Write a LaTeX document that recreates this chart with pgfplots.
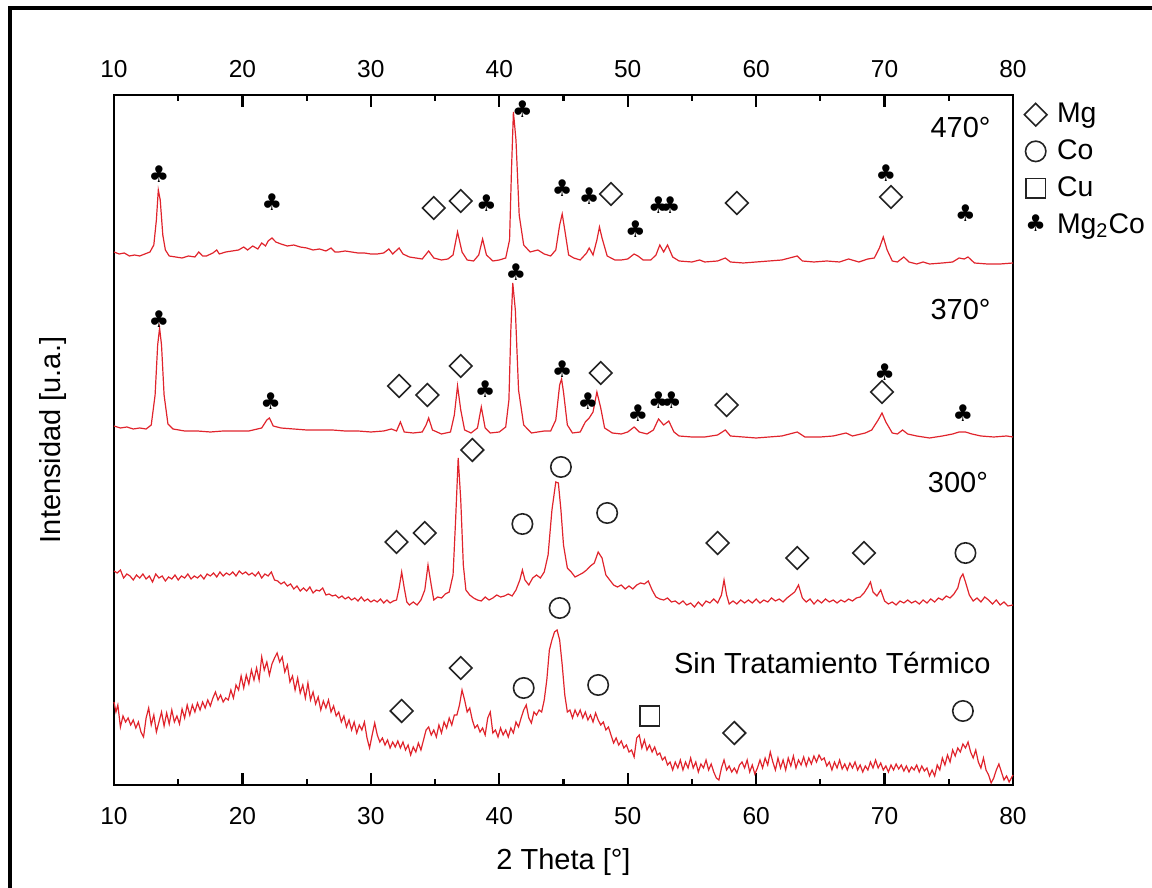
\documentclass[border=0pt]{standalone}
\usepackage{fontspec}
\setmainfont{Liberation Sans}
\newfontfamily\symfont{DejaVu Sans}
\usepackage{pgfplots}
\pgfplotsset{compat=1.18}
\definecolor{xrdred}{RGB}{224,36,44}
\definecolor{markgray}{RGB}{35,35,35}

\pgfplotsset{
  curve/.style={xrdred, line width=0.6pt, mark=none},
  mgmark/.style={only marks, mark=square, mark size=4pt,
    mark options={rotate=45, draw=markgray, fill=none, line width=0.8pt}},
  comark/.style={only marks, mark=o, mark size=5.1pt,
    mark options={draw=markgray, fill=none, line width=0.8pt}},
  cumark/.style={only marks, mark=square, mark size=4.9pt,
    mark options={draw=markgray, fill=none, line width=0.8pt}},
  clubmark/.style={only marks, black, mark=text, text mark={\symfont ♣},
    text mark as node=true,
    text mark style={font=\fontsize{11.5}{11.5}\selectfont, inner sep=0pt, anchor=center}},
}

\begin{document}
\begin{tikzpicture}
\path[use as bounding box] (0pt,0pt) rectangle (576pt,444pt);
% outer frame
\draw[line width=2.2pt] (5pt,-10pt) -- (5pt,440pt) -- (585pt,440pt);

\begin{axis}[
  at={(57pt,51.5pt)}, anchor=south west,
  scale only axis, width=449.5pt, height=345pt,
  xmin=10, xmax=80, ymin=0, ymax=690,
  xtick={10,20,...,80}, minor xtick={15,25,...,75},
  ytick=\empty,
  xtick pos=both, xticklabel pos=lower,
  tick align=inside,
  major tick length=6pt, minor tick length=3pt,
  axis line style={line width=1.25pt},
  every tick/.style={black, line width=1.1pt},
  tick label style={font=\fontsize{12.25}{14}\selectfont},
  /pgf/number format/assume math mode=true,
  xticklabel style={yshift=-7.5pt},
  xlabel={2 Theta [°]}, ylabel={Intensidad [u.a.]},
  label style={font=\fontsize{14.5}{17}\selectfont},
  xlabel style={at={(axis description cs:0.5,-0.1116)}, anchor=center},
  ylabel style={at={(axis description cs:-0.068,0.5)}, anchor=center},
  clip=false,
  legend style={at={(axis description cs:1.0,1.0)}, anchor=north west,
    xshift=5.5pt, yshift=-2pt, draw=none, fill=none, inner sep=0pt,
    font=\fontsize{14.2}{17}\selectfont, row sep=3pt,
    /tikz/every odd column/.append style={column sep=3pt}},
  legend cell align=left,
  legend image code/.code={\draw[#1] plot coordinates {(0pt,0pt)};},
]
% legend entries
\addlegendimage{mgmark}
\addlegendentry{Mg}
\addlegendimage{comark}
\addlegendentry{Co}
\addlegendimage{cumark}
\addlegendentry{Cu}
\addlegendimage{legend image code/.code={\node[inner sep=0pt, anchor=center, font=\fontsize{11.5}{11.5}\selectfont] at (0pt,0pt) {\symfont ♣};}}
\addlegendentry{Mg\textsubscript{2}Co}

% 470 degrees
\addplot[curve] coordinates {
(10.0,533) (10.4,531) (10.8,532) (11.2,529) (11.6,530) (12.0,529) (12.4,531) (12.8,533)
(13.1,540) (13.3,565) (13.45,595) (13.6,585) (13.8,550) (14.0,535) (14.3,529) (14.8,528)
(15.3,527) (15.8,529) (16.3,528) (16.6,533) (16.9,529) (17.2,529) (17.7,532) (18.0,535)
(18.2,531) (18.7,533) (19.2,534) (19.7,535) (20.1,538) (20.4,535) (20.8,539) (21.2,536)
(21.5,542) (21.8,539) (22.0,544) (22.3,547) (22.6,543) (23.0,541) (23.5,539) (24.0,540)
(24.5,538) (25.0,537) (25.5,535) (26.0,536) (26.5,534) (26.9,537) (27.2,533) (27.5,533)
(28.0,534) (28.5,533) (29.0,532) (29.5,532) (30.0,531) (30.5,531) (31.0,532) (31.4,536)
(31.7,531) (32.2,537) (32.5,531) (33.0,528) (33.5,527) (34.0,526) (34.5,534) (34.9,527)
(35.5,525) (36.0,526) (36.4,530) (36.75,553) (37.1,533) (37.5,525) (38.0,524) (38.4,530)
(38.7,546) (39.0,530) (39.5,524) (40.0,525) (40.5,527) (40.8,545) (40.95,615) (41.1,673)
(41.3,645) (41.55,570) (41.9,540) (42.4,533) (43.0,535) (43.5,531) (44.0,529) (44.4,535)
(44.7,560) (44.9,571) (45.1,555) (45.4,530) (45.8,527) (46.3,525) (46.8,532) (47.0,537)
(47.3,530) (47.6,545) (47.8,558) (48.0,547) (48.4,529) (49.0,525) (49.5,525) (50.0,526)
(50.5,531) (50.8,529) (51.2,525) (51.8,525) (52.2,530) (52.5,540) (52.8,533) (53.1,540)
(53.5,528) (54.0,524) (55.0,523) (55.6,525) (56.0,523) (57.0,524) (57.6,527) (58.0,523)
(59.0,522) (60.0,523) (61.0,524) (62.0,525) (63.2,529) (63.6,524) (64.5,523) (65.5,524)
(66.5,523) (67.2,526) (68.0,523) (68.7,526) (69.2,527) (69.6,537) (69.9,548) (70.2,535)
(70.6,524) (71.0,523) (71.5,528) (71.9,523) (72.5,521) (73.0,523) (73.5,521) (74.5,522)
(75.3,523) (75.8,527) (76.2,526) (76.5,528) (77.0,522) (78.0,521) (79.0,521) (80.0,522)
};
% 370 degrees
\addplot[curve] coordinates {
(10.0,359) (10.5,357) (11.0,358) (11.5,356) (12.0,357) (12.5,356) (12.9,360) (13.2,390)
(13.4,440) (13.55,457) (13.7,440) (13.9,390) (14.2,361) (14.6,356) (15.5,354) (16.5,354)
(17.5,353) (18.5,354) (19.5,354) (20.5,354) (21.5,357) (21.9,365) (22.1,367) (22.4,359)
(23.0,357) (24.0,356) (25.0,355) (26.0,355) (27.0,355) (28.0,354) (29.0,354) (30.0,353)
(31.0,354) (31.6,356) (32.0,354) (32.3,363) (32.6,353) (33.3,352) (34.0,353) (34.3,360)
(34.5,367) (34.8,355) (35.5,351) (36.2,353) (36.5,370) (36.75,399) (37.0,375) (37.3,355)
(37.8,352) (38.3,357) (38.6,378) (38.9,357) (39.3,352) (40.0,353) (40.5,358) (40.75,385)
(40.9,455) (41.05,502) (41.25,475) (41.5,395) (41.9,360) (42.5,352) (43.0,353) (43.5,354)
(44.0,354) (44.4,365) (44.7,400) (44.85,406) (45.0,393) (45.3,360) (45.7,352) (46.3,353)
(46.7,363) (47.0,367) (47.3,373) (47.6,393) (47.9,377) (48.2,357) (48.8,352) (49.5,351)
(50.0,353) (50.5,358) (50.9,353) (51.5,351) (52.0,355) (52.4,366) (52.8,360) (53.2,364)
(53.6,353) (54.0,349) (55.0,348) (56.0,348) (57.0,350) (57.6,355) (58.0,349) (59.0,348)
(60.0,347) (61.0,348) (62.0,349) (63.2,353) (63.8,348) (65.0,348) (66.0,349) (67.0,352)
(67.5,349) (68.5,352) (69.0,355) (69.5,365) (69.8,372) (70.1,363) (70.6,352) (71.0,351)
(71.4,355) (71.8,351) (72.5,349) (73.5,347) (74.5,349) (75.3,351) (75.8,353) (76.3,353)
(76.8,351) (77.5,349) (78.5,348) (79.5,349) (80.0,348)
};
% 300 degrees
\addplot[curve] coordinates {
(10.0,214) (10.25,212) (10.5,215) (10.75,207) (11.0,211) (11.25,209) (11.5,205) (11.75,210)
(12.0,207) (12.25,211) (12.5,206) (12.75,209) (13.0,203) (13.25,211) (13.5,207) (13.75,209)
(14.0,204) (14.25,208) (14.5,206) (14.75,210) (15.0,205) (15.25,209) (15.5,207) (15.75,211)
(16.0,206) (16.25,209) (16.5,207) (16.75,210) (17.0,206) (17.25,211) (17.5,209) (17.75,212)
(18.0,208) (18.25,213) (18.5,209) (18.75,212) (19.0,210) (19.25,213) (19.5,209) (19.75,214)
(20.0,211) (20.25,213) (20.5,210) (20.75,212) (21.0,209) (21.25,213) (21.5,207) (21.75,211)
(22.0,209) (22.25,213) (22.5,205) (22.75,204) (23.0,201) (23.25,203) (23.5,199) (23.75,201)
(24.0,196) (24.25,199) (24.5,194) (24.75,197) (25.0,194) (25.25,198) (25.5,192) (25.75,195)
(26.0,194) (26.25,197) (26.5,190) (26.75,191) (27.0,189) (27.25,190) (27.5,187) (27.75,189)
(28.0,186) (28.25,188) (28.5,185) (28.75,187) (29.0,184) (29.25,188) (29.5,184) (29.75,186)
(30.0,183) (30.25,185) (30.5,183) (30.75,186) (31.0,182) (31.25,185) (31.5,182) (31.75,184)
(32.0,185) (32.2,197) (32.4,213) (32.6,197) (32.8,183) (33.0,180) (33.3,183) (33.6,180)
(33.9,185) (34.2,195) (34.45,220) (34.7,200) (34.9,185) (35.2,188) (35.5,187) (35.8,191)
(36.1,193) (36.4,210) (36.6,265) (36.8,327) (37.0,285) (37.2,220) (37.4,195) (37.7,190)
(38.0,187) (38.3,185) (38.6,184) (38.9,188) (39.2,185) (39.5,187) (39.8,190) (40.1,188)
(40.4,189) (40.7,191) (41.0,189) (41.3,195) (41.6,205) (41.8,215) (42.0,205) (42.3,200)
(42.6,207) (42.9,210) (43.2,207) (43.5,213) (43.8,230) (44.1,275) (44.4,303) (44.6,302)
(44.8,275) (45.0,240) (45.3,217) (45.6,213) (45.9,208) (46.2,210) (46.5,212) (46.8,215)
(47.1,219) (47.4,222) (47.7,233) (48.0,227) (48.3,210) (48.6,205) (48.9,200) (49.2,198)
(49.5,200) (49.8,196) (50.1,199) (50.4,196) (50.7,200) (51.0,202) (51.3,201) (51.6,204)
(51.9,195) (52.2,188) (52.5,186) (52.8,185) (53.1,187) (53.4,183) (53.7,184) (54.0,181)
(54.3,184) (54.6,180) (54.9,182) (55.2,178) (55.5,183) (55.8,179) (56.1,184) (56.4,182)
(56.7,186) (57.0,182) (57.3,190) (57.5,205) (57.7,190) (57.9,181) (58.2,184) (58.5,181)
(58.8,185) (59.1,182) (59.4,185) (59.7,182) (60.0,186) (60.3,182) (60.6,185) (60.9,183)
(61.2,187) (61.5,184) (61.8,186) (62.1,183) (62.4,187) (62.7,190) (63.0,193) (63.3,200)
(63.6,187) (63.9,183) (64.2,186) (64.5,181) (64.8,185) (65.1,182) (65.4,186) (65.7,183)
(66.0,185) (66.3,182) (66.6,185) (66.9,183) (67.2,186) (67.5,184) (67.8,187) (68.1,188)
(68.4,192) (68.7,198) (68.9,203) (69.1,193) (69.4,189) (69.7,195) (70.0,184) (70.3,181)
(70.6,183) (70.9,180) (71.2,184) (71.5,182) (71.8,185) (72.1,182) (72.4,184) (72.7,181)
(73.0,185) (73.3,182) (73.6,186) (73.9,183) (74.2,187) (74.5,185) (74.8,189) (75.1,187)
(75.4,191) (75.7,197) (75.9,207) (76.1,211) (76.3,203) (76.6,190) (76.9,184) (77.2,187)
(77.5,183) (77.8,188) (78.1,185) (78.4,181) (78.7,185) (79.0,180) (79.3,183) (79.6,179)
(80.0,180)
};
% no heat treatment
\addplot[curve] coordinates {
(10.0,83) (10.15,73) (10.3,80) (10.5,58) (10.7,69) (10.9,63) (11.1,67) (11.3,60)
(11.5,65) (11.7,57) (11.9,63) (12.1,53) (12.3,48) (12.5,67) (12.7,77) (12.9,60)
(13.1,70) (13.3,53) (13.5,63) (13.7,73) (13.9,59) (14.1,72) (14.3,61) (14.5,75)
(14.7,63) (14.9,69) (15.1,61) (15.3,76) (15.5,67) (15.7,80) (15.9,70) (16.1,80)
(16.3,73) (16.5,82) (16.7,75) (16.9,83) (17.1,77) (17.3,85) (17.5,79) (17.7,87)
(17.9,93) (18.1,85) (18.3,90) (18.5,83) (18.7,87) (18.9,85) (19.1,95) (19.3,87)
(19.5,100) (19.7,95) (19.9,109) (20.1,97) (20.3,110) (20.5,101) (20.7,115) (20.9,105)
(21.1,117) (21.3,105) (21.5,128) (21.7,115) (21.9,123) (22.1,110) (22.3,121) (22.5,127)
(22.7,132) (22.9,123) (23.1,128) (23.3,113) (23.5,120) (23.7,103) (23.9,109) (24.1,95)
(24.3,107) (24.5,92) (24.7,100) (24.9,87) (25.1,102) (25.3,85) (25.5,93) (25.7,81)
(25.9,88) (26.1,75) (26.3,84) (26.5,77) (26.7,85) (26.9,73) (27.1,79) (27.3,69)
(27.5,73) (27.7,63) (27.9,69) (28.1,58) (28.3,65) (28.5,55) (28.7,63) (28.9,52)
(29.1,60) (29.3,55) (29.5,63) (29.7,47) (29.9,37) (30.1,50) (30.3,62) (30.5,50)
(30.7,43) (30.9,47) (31.1,40) (31.3,45) (31.5,37) (31.7,43) (31.9,38) (32.1,44)
(32.3,37) (32.5,43) (32.7,35) (32.9,40) (33.1,30) (33.3,38) (33.5,33) (33.7,42)
(33.9,35) (34.1,45) (34.3,55) (34.5,58) (34.7,50) (34.9,55) (35.1,48) (35.3,60)
(35.5,52) (35.7,63) (35.9,57) (36.1,67) (36.3,60) (36.5,70) (36.7,70) (36.9,80)
(37.1,95) (37.3,85) (37.5,73) (37.7,77) (37.9,65) (38.1,57) (38.3,60) (38.5,53)
(38.7,57) (38.9,50) (39.1,67) (39.3,73) (39.5,52) (39.7,55) (39.9,48) (40.1,57)
(40.3,50) (40.5,55) (40.7,48) (40.9,57) (41.1,52) (41.3,63) (41.5,58) (41.7,67)
(41.9,75) (42.1,80) (42.3,67) (42.5,62) (42.7,73) (42.9,70) (43.1,75) (43.3,73)
(43.5,85) (43.7,105) (43.9,135) (44.1,145) (44.3,153) (44.5,155) (44.7,145) (44.9,120)
(45.1,90) (45.3,73) (45.5,75) (45.7,67) (45.9,75) (46.1,69) (46.3,75) (46.5,67)
(46.7,73) (46.9,65) (47.1,70) (47.3,63) (47.5,72) (47.7,65) (47.9,60) (48.1,63)
(48.3,55) (48.5,58) (48.7,50) (48.9,42) (49.1,47) (49.3,40) (49.5,44) (49.7,37)
(49.9,40) (50.1,33) (50.3,35) (50.5,28) (50.7,47) (50.9,50) (51.1,37) (51.3,45)
(51.5,35) (51.7,40) (51.9,33) (52.1,38) (52.3,30) (52.5,32) (52.7,25) (52.9,28)
(53.1,20) (53.3,23) (53.5,15) (53.7,23) (53.9,17) (54.1,25) (54.3,15) (54.5,23)
(54.7,17) (54.9,27) (55.1,17) (55.3,23) (55.5,13) (55.7,21) (55.9,17) (56.1,25)
(56.3,15) (56.5,21) (56.7,13) (56.9,7) (57.1,5) (57.3,17) (57.5,25) (57.7,15)
(57.9,19) (58.1,13) (58.3,17) (58.5,12) (58.7,20) (58.9,23) (59.1,17) (59.3,25)
(59.5,13) (59.7,20) (59.9,11) (60.1,17) (60.3,25) (60.5,17) (60.7,27) (60.9,20)
(61.1,33) (61.3,23) (61.5,15) (61.7,27) (61.9,17) (62.1,25) (62.3,15) (62.5,27)
(62.7,19) (62.9,29) (63.1,17) (63.3,25) (63.5,20) (63.7,28) (63.9,19) (64.1,27)
(64.3,21) (64.5,29) (64.7,23) (64.9,30) (65.1,25) (65.3,27) (65.5,19) (65.7,23)
(65.9,15) (66.1,23) (66.3,17) (66.5,25) (66.7,16) (66.9,21) (67.1,15) (67.3,22)
(67.5,17) (67.7,23) (67.9,15) (68.1,20) (68.3,13) (68.5,19) (68.7,15) (68.9,23)
(69.1,17) (69.3,25) (69.5,17) (69.7,22) (69.9,15) (70.1,19) (70.3,13) (70.5,20)
(70.7,15) (70.9,21) (71.1,16) (71.3,20) (71.5,14) (71.7,19) (71.9,13) (72.1,18)
(72.3,15) (72.5,20) (72.7,13) (72.9,19) (73.1,14) (73.3,17) (73.5,9) (73.7,15)
(73.9,9) (74.1,20) (74.3,15) (74.5,27) (74.7,20) (74.9,30) (75.1,23) (75.3,35)
(75.5,29) (75.7,37) (75.9,33) (76.1,41) (76.3,37) (76.5,43) (76.7,33) (76.9,27)
(77.1,35) (77.3,23) (77.5,17) (77.7,27) (77.9,15) (78.1,10) (78.3,2) (78.5,7)
(78.7,15) (78.9,21) (79.1,13) (79.3,5) (79.5,9) (79.7,3) (80.0,10)
};

% phase markers: Mg
\addplot[mgmark] coordinates {
(34.9,577) (37.0,584) (48.7,591) (58.5,582) (70.5,588)
(32.2,399) (34.4,390) (37.0,419) (47.9,412) (57.7,380) (69.8,393)
(32.0,243) (34.2,252) (37.9,335) (57.0,242) (63.2,227) (68.4,232)
(32.4,74) (37.0,117) (58.3,52)
};
% Co
\addplot[comark] coordinates {
(41.8,261) (44.8,318) (48.4,272) (76.3,232)
(41.9,97) (44.7,177) (47.7,100) (76.1,74)
};
% Cu
\addplot[cumark] coordinates {(51.7,69)};
% Mg2Co
\addplot[clubmark] coordinates {
(13.5,611) (22.3,583) (39.0,582) (41.8,676) (44.9,597) (47.0,589) (50.6,556)
(52.4,580) (53.3,580) (70.1,612) (76.3,572)
(13.5,466) (22.2,384) (38.9,396) (41.3,513) (44.9,416) (46.9,384) (50.8,372)
(52.4,385) (53.4,385) (70.0,413) (76.1,372)
};

% sample labels
\node[anchor=east, font=\fontsize{14.5}{17}\selectfont] at (axis cs:78.8,657) {470°};
\node[anchor=east, font=\fontsize{14.5}{17}\selectfont] at (axis cs:78.8,475) {370°};
\node[anchor=east, font=\fontsize{14.5}{17}\selectfont] at (axis cs:78.6,302) {300°};
\node[anchor=east, font=\fontsize{14.5}{17}\selectfont] at (axis cs:78.8,122) {Sin Tratamiento Térmico};
\end{axis}

% tick labels along the top edge
\begin{axis}[
  at={(57pt,51.5pt)}, anchor=south west,
  scale only axis, width=449.5pt, height=345pt,
  xmin=10, xmax=80, ymin=0, ymax=690,
  xtick={10,20,...,80}, ytick=\empty,
  xticklabel pos=upper,
  major tick length=0pt,
  axis line style={draw=none},
  every tick/.style={draw=none},
  tick label style={font=\fontsize{12.25}{14}\selectfont},
  /pgf/number format/assume math mode=true,
  xticklabel style={yshift=5pt},
]
\end{axis}
\end{tikzpicture}
\end{document}
